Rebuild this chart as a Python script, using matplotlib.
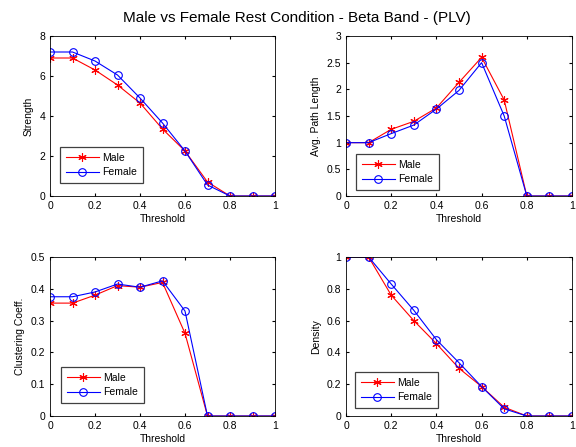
import matplotlib
matplotlib.use("Agg")
import matplotlib.pyplot as plt

plt.rcParams.update({"font.family": "Liberation Sans", "font.size": 7.5,
                     "axes.linewidth": 0.6, "xtick.direction": "in", "ytick.direction": "in",
                     "xtick.top": True, "ytick.right": True,
                     "xtick.major.size": 2.5, "ytick.major.size": 2.5})

threshold = [0, 0.1, 0.2, 0.3, 0.4, 0.5, 0.6, 0.7, 0.8, 0.9, 1.0]

strength_male = [6.9, 6.9, 6.3, 5.55, 4.65, 3.35, 2.25, 0.7, 0, 0, 0]
strength_female = [7.2, 7.2, 6.75, 6.05, 4.9, 3.65, 2.25, 0.55, 0, 0, 0]

path_male = [1, 1, 1.25, 1.4, 1.65, 2.13, 2.6, 1.8, 0, 0, 0]
path_female = [1, 1, 1.17, 1.33, 1.63, 1.98, 2.5, 1.5, 0, 0, 0]

clust_male = [0.355, 0.355, 0.38, 0.41, 0.405, 0.42, 0.26, 0, 0, 0, 0]
clust_female = [0.375, 0.375, 0.39, 0.415, 0.405, 0.425, 0.33, 0, 0, 0, 0]

density_male = [1, 1, 0.76, 0.6, 0.455, 0.3, 0.185, 0.055, 0, 0, 0]
density_female = [1, 1, 0.83, 0.665, 0.48, 0.335, 0.185, 0.045, 0, 0, 0]

W, H = 576, 447
fig = plt.figure(figsize=(W / 100, H / 100), dpi=100)


def px_axes(x0, y0, x1, y1):
    return fig.add_axes([x0 / W, 1 - y1 / H, (x1 - x0) / W, (y1 - y0) / H])


# thin six-armed asterisk
ASTERISK = (6, 2, 0)

panels = [
    ((50, 36, 275, 196), strength_male, strength_female, "Strength", (0, 8), [0, 2, 4, 6, 8],
     (0.044, 0.08)),
    ((346, 36, 572, 196), path_male, path_female, "Avg. Path Length", (0, 3),
     [0, 0.5, 1, 1.5, 2, 2.5, 3], (0.044, 0.0375)),
    ((50, 257, 275, 416), clust_male, clust_female, "Clustering Coeff.", (0, 0.5),
     [0, 0.1, 0.2, 0.3, 0.4, 0.5], (0.048, 0.082)),
    ((346, 257, 572, 416), density_male, density_female, "Density", (0, 1),
     [0, 0.2, 0.4, 0.6, 0.8, 1], (0.04, 0.05)),
]

for box, male, female, ylab, ylim, yticks, leg_pos in panels:
    ax = px_axes(*box)
    ax.plot(threshold, male, color="red", marker=ASTERISK, ms=6, mew=0.8, lw=0.8, label="Male")
    ax.plot(threshold, female, color="blue", marker="o", ms=5.5, mfc="none", mew=0.8,
            lw=0.8, label="Female")
    ax.set_xlim(0, 1)
    ax.set_ylim(*ylim)
    ax.set_xticks([0, 0.2, 0.4, 0.6, 0.8, 1])
    ax.set_xticklabels(["0", "0.2", "0.4", "0.6", "0.8", "1"])
    ax.set_yticks(yticks)
    ax.set_yticklabels([f"{v:g}" for v in yticks])
    ax.set_ylabel(ylab, labelpad=4)
    ax.set_xlabel("Threshold", labelpad=2)
    leg = ax.legend(loc="lower left", bbox_to_anchor=leg_pos, fancybox=False, framealpha=1,
                    edgecolor="#404040", borderpad=0.55, borderaxespad=0, handlelength=3.2,
                    handletextpad=0.3, labelspacing=0.45, fontsize=7.5)
    leg.get_frame().set_linewidth(0.9)

fig.suptitle("Male vs Female Rest Condition - Beta Band - (PLV)", x=0.516, y=0.975,
             fontsize=11)
fig.savefig("out.png", dpi=100)
